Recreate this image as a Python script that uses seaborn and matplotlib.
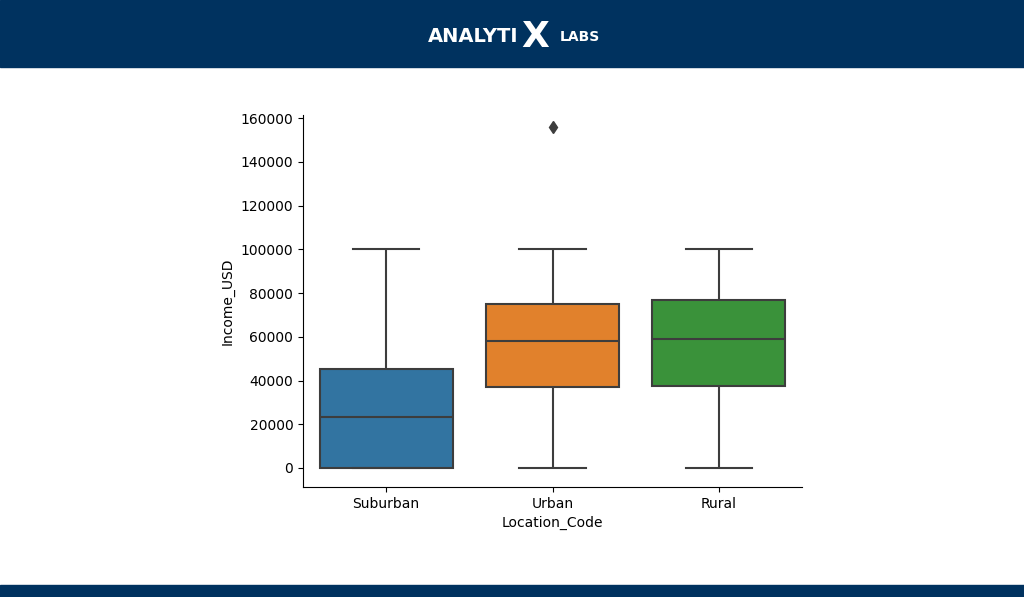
import pandas as pd
import matplotlib.pyplot as plt
import seaborn as sns
from matplotlib.patches import Rectangle

# small samples whose quartiles / whiskers match the picture
suburban = [0, 0, 0, 10000, 23300, 35000, 45300, 70000, 100000]
urban = [0, 20000, 37000, 50000, 58000, 66000, 75000, 100000, 155800]
rural = [0, 20000, 37500, 50000, 59000, 68000, 76800, 90000, 100000]
categories = ['Suburban', 'Urban', 'Rural']

df = pd.DataFrame({
    'Location_Code': ['Suburban'] * len(suburban) + ['Urban'] * len(urban) + ['Rural'] * len(rural),
    'Income_USD': suburban + urban + rural,
})

navy = '#00325f'

fig = plt.figure(figsize=(10.24, 5.97), dpi=100)
fig.patches.append(Rectangle((0, 1 - 67 / 597), 1, 67 / 597, transform=fig.transFigure,
                             color=navy, zorder=0))
fig.patches.append(Rectangle((0, 0), 1, 12 / 597, transform=fig.transFigure,
                             color=navy, zorder=0))

# logo
fig.text(428 / 1024, 1 - 37 / 597, 'ANALYTI', color='white', fontsize=14, fontweight='bold',
         va='center', ha='left')
fig.text(521 / 1024, 1 - 37 / 597, 'X', color='white', fontsize=26, fontweight='bold',
         va='center', ha='left')
fig.text(560 / 1024, 1 - 37 / 597, 'LABS', color='white', fontsize=10, fontweight='bold',
         va='center', ha='left')

ax = fig.add_axes([303 / 1024, 1 - 487 / 597, (802 - 303) / 1024, (487 - 115) / 597])
sns.boxplot(data=df, x='Location_Code', y='Income_USD', hue='Location_Code',
            order=categories, hue_order=categories,
            palette=['#1f77b4', '#ff7f0e', '#2ca02c'], saturation=0.75,
            legend=False, width=0.8, linewidth=1.5, linecolor='#3d3d3d',
            flierprops=dict(marker='d', markerfacecolor='#3d3d3d',
                            markeredgecolor='#3d3d3d', markersize=6), ax=ax)
ax.set_ylim(-8700, 161500)
ax.set_yticks(range(0, 160001, 20000))
sns.despine(ax=ax)

plt.savefig('out.png', dpi=100)
